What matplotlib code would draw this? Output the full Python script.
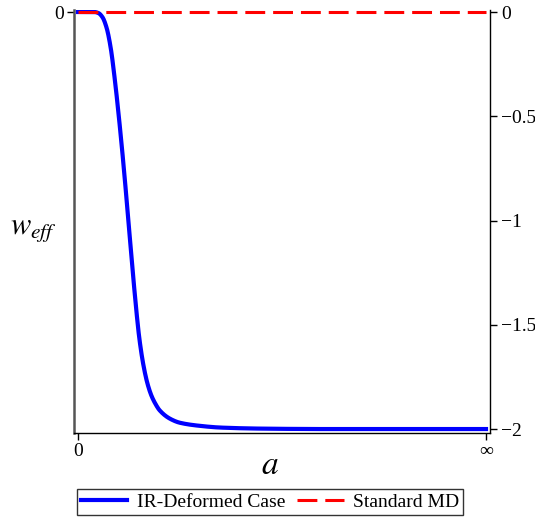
import matplotlib.pyplot as plt
import numpy as np

plt.rcParams['font.family'] = ['Liberation Serif', 'DejaVu Serif']
plt.rcParams['mathtext.fontset'] = 'stix'

# compactified scale factor a in [0, 1] where 1 stands for infinity
a_vals = [0.0, 0.04, 0.05, 0.06, 0.07, 0.08, 0.09, 0.10, 0.11, 0.12, 0.13,
          0.14, 0.15, 0.16, 0.17, 0.18, 0.19, 0.20, 0.225, 0.25, 0.30, 0.35,
          0.45, 0.60, 1.0]
w_ir = [0.0, 0.0, -0.005, -0.025, -0.075, -0.17, -0.32, -0.50, -0.70, -0.92,
        -1.15, -1.37, -1.56, -1.69, -1.78, -1.84, -1.88, -1.91, -1.95, -1.97,
        -1.985, -1.993, -1.998, -2.0, -2.0]
w_md = [0.0, 0.0]
a_md = [0.0, 1.0]

right_ticks = [0, -0.5, -1, -1.5, -2]
right_labels = ['0', '\u22120.5', '\u22121', '\u22121.5', '\u22122']


def pchip(x, y, xn):
    # monotone cubic through the read-off points, only for a smooth stroke
    x = np.asarray(x, float)
    y = np.asarray(y, float)
    h = np.diff(x)
    d = np.diff(y) / h
    m = np.zeros_like(y)
    for i in range(1, len(x) - 1):
        if d[i - 1] * d[i] > 0:
            w1 = 2 * h[i] + h[i - 1]
            w2 = h[i] + 2 * h[i - 1]
            m[i] = (w1 + w2) / (w1 / d[i - 1] + w2 / d[i])
    idx = np.clip(np.searchsorted(x, xn) - 1, 0, len(x) - 2)
    t = (xn - x[idx]) / h[idx]
    h00 = 2 * t**3 - 3 * t**2 + 1
    h10 = t**3 - 2 * t**2 + t
    h01 = -2 * t**3 + 3 * t**2
    h11 = t**3 - t**2
    return (h00 * y[idx] + h10 * h[idx] * m[idx]
            + h01 * y[idx + 1] + h11 * h[idx] * m[idx + 1])


fig = plt.figure(figsize=(5.35, 5.18), dpi=100)
ax = fig.add_axes([74/535, 1-433/518, 416/535, 423/518])

xs = np.linspace(0, 1, 3000)
ax.plot(xs, pchip(a_vals, w_ir, xs), color='#0000ff', lw=3.0,
        label='IR-Deformed Case', zorder=3)
ax.plot(a_md, w_md, color='#ff0000', lw=2.2, dashes=(6.5, 2.6),
        label='Standard MD', zorder=4)

ax.set_xlim(-0.0098, 1.0098)
ax.set_ylim(-2.019, 0.0096)

ax.spines['top'].set_visible(False)
ax.spines['left'].set_color('#555555')
ax.spines['left'].set_linewidth(1.8)
ax.spines['right'].set_visible(False)
ax.spines['bottom'].set_linewidth(1.0)

ax.set_xticks([0, 1])
ax.set_xticklabels(['0', '\u221e'], fontsize=14)
ax.set_yticks([0])
ax.set_yticklabels(['0'], fontsize=14)
ax.tick_params(axis='both', direction='out', length=5, width=1, pad=2)

ax2 = ax.twinx()
ax2.set_ylim(ax.get_ylim())
ax2.set_yticks(right_ticks)
ax2.set_yticklabels(right_labels, fontsize=14)
ax2.tick_params(axis='y', direction='out', length=5, width=1, pad=3)
for s in ['top', 'left', 'bottom']:
    ax2.spines[s].set_visible(False)
ax2.spines['right'].set_linewidth(1.0)

fig.text(33/535, 1-230/518, r'$w_{eff}$', fontsize=22, ha='center', va='center')
fig.text(270/535, 1-466/518, r'$a$', fontsize=24, ha='center', va='center')

leg = ax.legend(loc='center', bbox_to_anchor=(270/535, 1-502/518),
                bbox_transform=fig.transFigure, ncol=2, fontsize=14,
                frameon=True, fancybox=False, edgecolor='black',
                handlelength=2.4, columnspacing=0.6, handletextpad=0.5,
                borderpad=0.2, borderaxespad=0)
leg.get_frame().set_linewidth(1.0)

fig.savefig('out.png', dpi=100)
